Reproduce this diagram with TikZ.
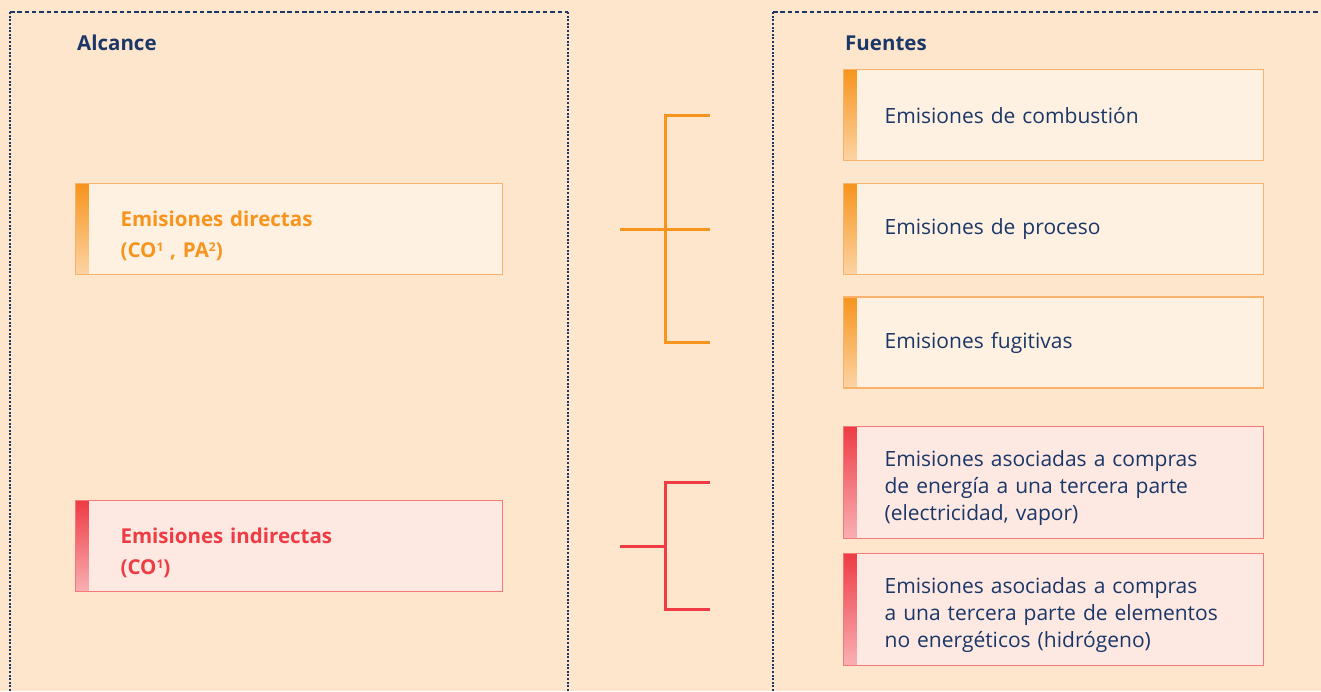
\documentclass[tikz,border=0pt]{standalone}
\usepackage{fontspec}
\setmainfont{Open Sans}
\usetikzlibrary{positioning}
\definecolor{fondo}{HTML}{FDE6CC}
\definecolor{azul}{HTML}{1B3768}
\definecolor{naranja}{HTML}{F7941D}
\definecolor{naranjaborde}{HTML}{F9B26B}
\definecolor{naranjacaja}{HTML}{FFF1E2}
\definecolor{rojo}{HTML}{EE3B44}
\definecolor{rojoborde}{HTML}{F47A7A}
\definecolor{rojocaja}{HTML}{FDE8E2}
\newcommand\supind[1]{\raisebox{.62ex}{\fontsize{12}{12}\selectfont #1}}

\begin{document}
\begin{tikzpicture}[x=1pt,y=-1pt,node distance=22pt,
    panel/.style={draw=azul,line width=2.4pt,dash pattern=on 2pt off 1.6pt},
    paneltop/.style={draw=azul,line width=2.4pt,dash pattern=on 4.5pt off 2.8pt},
    titulo/.style={anchor=west,inner sep=0pt,text=azul,font=\fontsize{20.5}{24}\selectfont\bfseries},
    caja/.style={rectangle,line width=1.2pt,inner xsep=41pt,text width=338pt,align=left,
      minimum height=91pt,font=\fontsize{21}{27}\selectfont,text=azul},
    barra/.style 2 args={path picture={\shade[top color=#1,bottom color=#1!40!white]
      (path picture bounding box.north west) rectangle ([xshift=13pt]path picture bounding box.south west);}},
    cajaO/.style={caja,draw=naranjaborde,fill=naranjacaja,barra={naranja}{}},
    cajaR/.style={caja,draw=rojoborde,fill=rojocaja,barra={rojo}{}},
    alcanceO/.style={cajaO,inner xsep=45pt,text width=337pt,text=naranja,
      font=\fontsize{20.5}{31}\selectfont\bfseries,execute at begin node={\rule{0pt}{30pt}}},
    alcanceR/.style={cajaR,inner xsep=45pt,text width=337pt,text=rojo,
      font=\fontsize{20.5}{31}\selectfont\bfseries,execute at begin node={\rule{0pt}{30pt}}},
    tres/.style={minimum height=112pt,execute at begin node={\rule{0pt}{28pt}}},
    llave/.style={line width=3pt}]
  \useasboundingbox (0,0) rectangle (1321,691);
  \fill[fondo] (0,0) rectangle (1321,691);
  \clip (0,0) rectangle (1321,691);

  % paneles punteados
  \draw[panel] (10,691) -- (10,12);
  \draw[panel] (568,12) -- (568,691);
  \draw[paneltop] (10,12) -- (568,12);
  \draw[panel] (773,691) -- (773,12);
  \draw[paneltop] (773,12) -- (1321,12);

  \node[titulo] (alcance) at (77,43) {Alcance};
  \node[titulo] (fuentes) at (845,43) {Fuentes};

  % alcance
  \node[alcanceO,anchor=north west] (directas) at (75,183) {Emisiones directas\\(CO\supind{1} , PA\supind{2})};
  \node[alcanceR,anchor=north west] (indirectas) at (75,500) {Emisiones indirectas\\(CO\supind{1})};

  % fuentes
  \node[cajaO,anchor=north west] (comb) at (843,69) {Emisiones de combustión};
  \node[cajaO,below=of comb] (proc) {Emisiones de proceso};
  \node[cajaO,below=21pt of proc] (fug) {Emisiones fugitivas};
  \node[cajaR,tres,below=37pt of fug] (compras) {Emisiones asociadas a compras\\de energía a una tercera parte\\(electricidad, vapor)};
  \node[cajaR,tres,below=14pt of compras] (noener) {Emisiones asociadas a compras\\a una tercera parte de elementos\\no energéticos (hidrógeno)};

  % llaves
  \coordinate (ini) at (620,0);
  \coordinate (eje) at (665,0);
  \coordinate (fin) at (710,0);
  \draw[llave,naranja] (fin |- comb) -- (eje |- comb) -- (eje |- fug) -- (fin |- fug);
  \draw[llave,naranja] (ini |- directas) -- (fin |- directas);
  \draw[llave,rojo] (fin |- compras) -- (eje |- compras) -- (eje |- noener) -- (fin |- noener);
  \draw[llave,rojo] (ini |- indirectas) -- (eje |- indirectas);
\end{tikzpicture}
\end{document}
